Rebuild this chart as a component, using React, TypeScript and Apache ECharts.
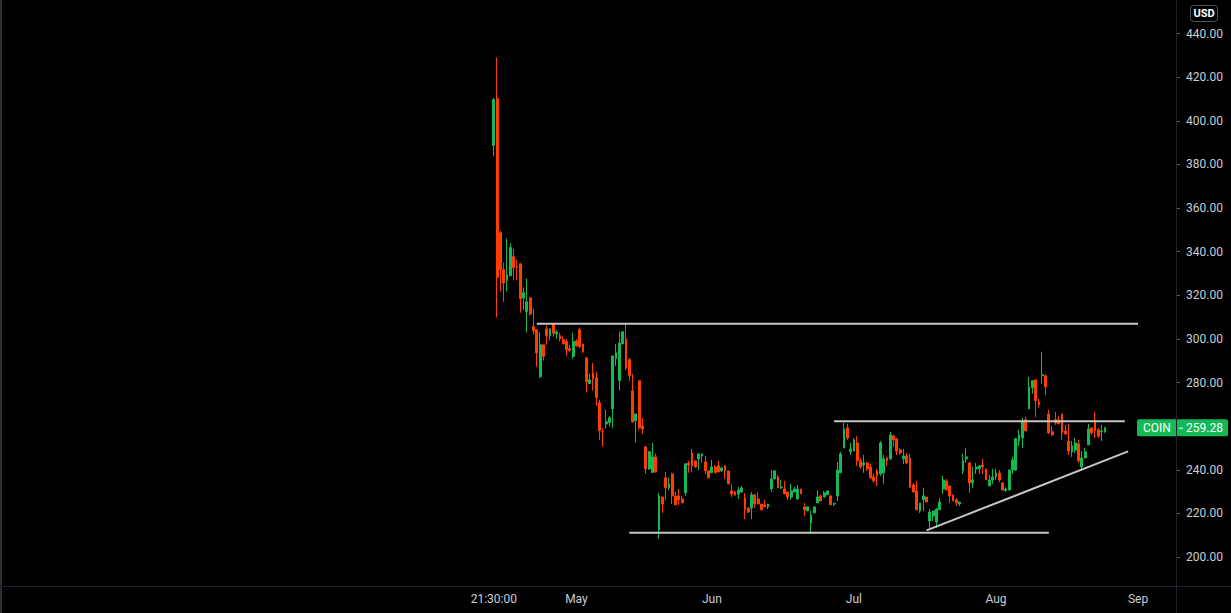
import React, { useEffect, useRef } from "react";
import * as echarts from "echarts";

// ---- Data (4h bars) ----
const barOpen = [
  388.7, 410.2, 348.7, 331.7, 326.8, 328.9, 337.7, 333.0, 334.4, 318.7,
  312.6, 318.8, 305.6, 304.2, 282.7, 297.3, 304.6, 301.4, 306.9, 302.3,
  301.5, 299.6, 298.8, 295.5, 292.0, 299.1, 304.2, 297.7, 291.3, 279.5,
  284.4, 282.1, 270.7, 257.6, 261.0, 261.6, 267.9, 291.0, 280.8, 297.7,
  300.0, 290.4, 276.2, 262.5, 280.8, 260.1, 250.5, 240.4, 238.7, 245.9,
  212.4, 227.5, 236.3, 231.7, 238.1, 228.0, 228.0, 226.6, 229.4, 243.1,
  247.7, 244.1, 245.0, 246.3, 243.6, 239.5, 238.6, 241.3, 241.8, 239.5,
  241.8, 239.5, 230.3, 229.8, 228.9, 229.8, 227.1, 222.5, 222.5, 228.5,
  226.6, 224.3, 223.9, 223.0, 231.2, 235.8, 236.7, 231.7, 231.2, 229.8,
  227.5, 229.8, 226.6, 231.2, 222.9, 221.1, 215.6, 220.2, 224.8, 228.0,
  227.5, 228.5, 228.0, 224.2, 228.0, 238.6, 250.0, 259.2, 248.2, 248.6,
  252.3, 244.1, 242.2, 243.1, 241.3, 236.7, 239.5, 238.1, 238.6, 245.4,
  245.0, 255.5, 254.2, 249.1, 245.0, 246.3, 245.4, 233.0, 230.3, 221.1,
  226.2, 227.5, 216.5, 218.8, 216.1, 221.6, 231.2, 234.9, 232.6, 228.5,
  226.2, 224.3, 239.5, 245.0, 243.1, 234.0, 240.4, 240.4, 242.2, 240.4,
  232.6, 235.3, 236.7, 238.5, 234.0, 230.6, 230.7, 239.9, 239.9, 253.2,
  254.6, 262.9, 267.9, 277.6, 281.2, 271.1, 283.1, 283.1, 265.6, 257.4,
  262.9, 262.9, 265.6, 257.8, 253.2, 248.2, 249.1, 251.9, 241.3, 245.4,
  251.4, 259.2, 262.9, 258.3, 257.4, 257.4,
];
const barClose = [
  409.7, 328.2, 331.7, 325.6, 329.4, 341.8, 332.7, 332.8, 318.4, 321.1,
  317.0, 311.4, 303.7, 293.5, 297.3, 292.0, 301.4, 304.6, 302.6, 303.2,
  299.9, 297.7, 295.0, 294.7, 298.8, 296.8, 296.5, 294.2, 280.5, 281.2,
  281.7, 273.1, 258.0, 257.4, 262.0, 263.8, 292.2, 293.6, 298.1, 303.3,
  286.6, 283.1, 262.0, 265.6, 259.2, 258.7, 240.4, 248.2, 245.9, 239.0,
  228.0, 224.3, 231.7, 233.5, 228.0, 223.9, 226.2, 224.8, 242.7, 242.2,
  241.8, 241.3, 247.3, 247.3, 239.5, 236.3, 241.3, 238.6, 239.0, 240.8,
  239.5, 233.5, 228.9, 228.5, 230.7, 231.7, 221.6, 220.6, 228.5, 224.3,
  224.3, 221.6, 223.0, 224.3, 235.8, 239.5, 231.7, 232.1, 228.9, 227.5,
  230.3, 231.2, 231.2, 228.9, 221.6, 223.0, 219.3, 223.0, 227.5, 225.7,
  229.4, 230.3, 223.9, 224.6, 239.9, 247.3, 258.7, 254.6, 249.6, 253.7,
  244.1, 241.3, 243.1, 240.4, 236.3, 234.9, 237.2, 252.3, 245.0, 244.1,
  256.0, 253.7, 248.6, 247.7, 246.3, 243.1, 232.1, 229.8, 221.6, 224.8,
  228.0, 225.2, 220.6, 221.1, 222.0, 225.2, 235.3, 230.7, 228.0, 225.7,
  224.8, 225.2, 244.1, 245.9, 234.0, 235.3, 241.3, 241.8, 241.3, 235.3,
  235.3, 236.7, 238.5, 235.3, 230.7, 231.2, 239.9, 244.5, 254.2, 256.0,
  262.4, 257.8, 278.0, 280.8, 271.6, 269.8, 283.6, 278.0, 256.9, 256.0,
  261.5, 261.0, 256.9, 256.4, 248.6, 250.9, 252.3, 244.1, 245.4, 248.2,
  258.7, 256.9, 257.8, 255.5, 257.8, 259.28,
];
const barLow = [
  383.7, 309.8, 321.7, 317.0, 321.7, 328.9, 326.8, 327.1, 312.0, 313.3,
  302.9, 310.7, 301.9, 287.3, 282.0, 290.0, 297.3, 299.3, 301.0, 300.0,
  298.8, 297.7, 292.2, 293.8, 290.9, 296.4, 295.8, 293.5, 275.4, 279.5,
  276.3, 269.3, 253.7, 250.6, 258.9, 259.8, 259.2, 287.6, 276.3, 297.7,
  285.8, 280.8, 261.5, 252.3, 258.3, 256.4, 238.1, 240.0, 238.7, 238.7,
  208.3, 220.2, 226.2, 230.7, 224.3, 223.9, 223.9, 224.8, 228.0, 238.6,
  239.0, 240.9, 239.9, 243.1, 238.1, 236.3, 238.6, 238.6, 239.0, 239.0,
  235.8, 233.5, 227.5, 228.0, 226.6, 229.4, 217.4, 220.2, 217.4, 222.5,
  224.3, 221.6, 223.0, 222.0, 229.8, 235.8, 231.7, 231.2, 228.9, 226.2,
  226.2, 229.8, 226.2, 228.9, 218.8, 221.1, 210.6, 220.2, 224.8, 225.7,
  227.5, 228.5, 223.9, 223.4, 225.7, 238.6, 250.0, 253.7, 246.8, 248.6,
  241.8, 240.4, 238.6, 239.5, 235.8, 234.0, 232.6, 237.2, 233.5, 241.8,
  244.5, 250.5, 246.8, 246.8, 242.7, 242.7, 231.6, 229.8, 221.6, 220.2,
  221.1, 225.2, 213.3, 216.5, 213.3, 221.6, 228.9, 230.7, 224.8, 225.7,
  223.4, 223.4, 238.1, 243.1, 229.4, 231.7, 238.1, 238.1, 238.1, 235.3,
  232.6, 233.5, 235.3, 234.4, 230.7, 229.8, 230.7, 238.1, 239.5, 250.9,
  250.0, 257.8, 267.9, 274.8, 264.2, 268.4, 279.4, 274.3, 256.5, 255.5,
  260.6, 261.0, 253.7, 256.4, 246.8, 245.9, 247.7, 243.1, 239.5, 245.4,
  251.4, 256.0, 254.6, 254.6, 253.2, 256.9,
];
const barHigh = [
  410.5, 429.0, 349.5, 335.0, 346.0, 343.8, 341.3, 336.2, 334.4, 323.6,
  327.6, 319.0, 313.8, 304.2, 303.1, 297.3, 306.0, 304.6, 307.0, 304.2,
  302.8, 301.1, 299.9, 297.3, 302.9, 299.9, 305.2, 297.7, 291.3, 284.0,
  289.0, 284.9, 272.1, 259.0, 267.5, 264.7, 292.2, 297.6, 303.3, 303.3,
  306.9, 291.3, 284.0, 265.6, 280.8, 263.8, 251.0, 248.6, 252.3, 247.3,
  229.4, 227.5, 239.0, 236.3, 238.6, 229.8, 231.2, 228.0, 243.1, 244.1,
  249.6, 244.1, 247.3, 247.3, 246.3, 239.5, 244.5, 242.2, 244.1, 241.3,
  241.8, 239.5, 233.5, 230.3, 232.1, 232.6, 229.4, 222.5, 229.8, 228.9,
  229.8, 224.3, 226.2, 224.3, 239.9, 239.5, 237.6, 235.3, 234.9, 229.8,
  233.5, 232.1, 233.0, 231.2, 224.8, 223.0, 221.1, 223.0, 230.7, 228.5,
  230.3, 230.3, 228.5, 224.8, 243.6, 248.2, 261.5, 261.0, 252.3, 254.6,
  255.5, 245.4, 246.8, 243.6, 242.7, 238.1, 240.4, 253.2, 246.8, 245.9,
  257.4, 256.0, 254.2, 250.0, 249.6, 247.7, 247.3, 233.9, 234.9, 224.8,
  231.7, 227.5, 222.0, 221.1, 222.5, 227.0, 237.2, 235.8, 232.6, 228.5,
  227.0, 225.2, 247.3, 250.0, 243.6, 241.3, 243.1, 242.2, 245.0, 240.4,
  237.6, 240.4, 240.4, 239.9, 234.0, 232.0, 239.9, 245.9, 254.6, 258.3,
  263.8, 264.2, 282.6, 280.8, 281.2, 272.5, 294.1, 283.6, 267.5, 260.1,
  266.5, 264.7, 265.6, 260.6, 261.0, 253.2, 254.6, 253.7, 248.6, 250.0,
  261.0, 259.2, 266.5, 259.2, 260.6, 259.7,
];

// Time-axis tick labels: [bar index, label]
const xTickLabels: [number, string][] = [
  [0, "21:30:00"],
  [25, "May"],
  [66, "Jun"],
  [109, "Jul"],
  [152, "Aug"],
  [195, "Sep"],
];

// Price axis
const priceMin = 200;
const priceMax = 440;
const priceStep = 20;

// Drawn levels / trend line: [bar index, price]
const drawnLines: { from: [number, number]; to: [number, number] }[] = [
  { from: [13, 306.9], to: [195, 306.9] },
  { from: [41, 211.1], to: [168, 211.1] },
  { from: [103, 262.2], to: [191, 262.2] },
  { from: [131, 212.2], to: [192, 248.4] },
];

const symbolName = "COIN";
const currency = "USD";

const LEFT_PAD = 149; // empty slots left of the first bar
const TOTAL_SLOTS = 356;

const UP = "#12b955";
const DOWN = "#ff3d00";
const TEXT = "#c9ccd4";

export default function App() {
  const ref = useRef<HTMLDivElement>(null);

  useEffect(() => {
    document.body.style.margin = "0";
    const el = ref.current!;
    const chart = echarts.init(el, null, { renderer: "svg" });

    const cats = Array.from({ length: TOTAL_SLOTS }, (_, i) => String(i - LEFT_PAD));
    const labelMap = new Map<number, string>(xTickLabels);

    const candleData = barOpen.map((o, i) => [
      i + LEFT_PAD,
      o,
      barClose[i],
      barLow[i],
      barHigh[i],
    ]);

    const lineSeries = drawnLines.map((l) => ({
      type: "line" as const,
      data: [
        [l.from[0] + LEFT_PAD, l.from[1]],
        [l.to[0] + LEFT_PAD, l.to[1]],
      ],
      showSymbol: false,
      symbol: "none",
      lineStyle: { color: "#c6c6c6", width: 2 },
      silent: true,
      z: 5,
    }));

    chart.setOption({
      animation: false,
      backgroundColor: "#000000",
      grid: { left: 0, right: 55, top: 33.5, bottom: 56 },
      xAxis: {
        type: "category",
        data: cats,
        boundaryGap: true,
        axisLine: { show: false },
        axisTick: { show: false },
        splitLine: { show: false },
        axisLabel: {
          color: TEXT,
          fontFamily: "Roboto",
          fontSize: 12,
          margin: 36,
          hideOverlap: false,
          interval: (index: number) => labelMap.has(index - LEFT_PAD),
          formatter: (_v: string, index: number) => labelMap.get(index - LEFT_PAD) ?? "",
        },
      },
      yAxis: {
        type: "value",
        position: "right",
        min: priceMin,
        max: priceMax,
        interval: priceStep,
        splitLine: { show: false },
        axisLine: { show: false },
        axisTick: { show: true, length: 4, lineStyle: { color: "#5d606b" } },
        axisLabel: {
          color: TEXT,
          fontFamily: "Roboto",
          fontSize: 12,
          margin: 10,
          formatter: (v: number) => v.toFixed(2),
        },
      },
      series: [
        {
          type: "candlestick",
          data: candleData,
          encode: { x: 0, y: [1, 2, 3, 4] },
          barWidth: 2.3,
          itemStyle: {
            color: UP,
            color0: DOWN,
            borderColor: UP,
            borderColor0: DOWN,
            borderColorDoji: DOWN,
            borderWidth: 1,
          },
          z: 2,
        },
        ...lineSeries,
      ],
    });

    const lastClose = barClose[barClose.length - 1];
    const py = chart.convertToPixel({ yAxisIndex: 0 }, lastClose) as number;

    chart.setOption({
      graphic: [
        { type: "rect", shape: { x: 0, y: 0, width: 2, height: 613 }, style: { fill: "#2a2e39" }, z: 50 },
        { type: "line", shape: { x1: 0, y1: 586.5, x2: 1231, y2: 586.5 }, style: { stroke: "#1e222d", lineWidth: 1 }, z: 50 },
        {
          type: "rect",
          shape: { x: 1137, y: py - 8.5, width: 91, height: 17, r: 2 },
          style: { fill: UP },
          z: 60,
        },
        {
          type: "text",
          x: 1143,
          y: py,
          style: { text: symbolName, fill: "#ffffff", font: "12px Roboto", verticalAlign: "middle", align: "left" },
          z: 61,
        },
        {
          type: "line",
          shape: { x1: 1179, y1: py + 0.5, x2: 1183, y2: py + 0.5 },
          style: { stroke: "#ffffff", lineWidth: 1 },
          z: 61,
        },
        {
          type: "text",
          x: 1186,
          y: py,
          style: { text: lastClose.toFixed(2), fill: "#ffffff", font: "12px Roboto", verticalAlign: "middle", align: "left" },
          z: 61,
        },
        { type: "line", shape: { x1: 1176.5, y1: 0, x2: 1176.5, y2: 613 }, style: { stroke: "#1e222d", lineWidth: 1 }, z: 62 },
        {
          type: "rect",
          shape: { x: 1190.5, y: 5.5, width: 27, height: 16, r: 3 },
          style: { fill: "#000000", stroke: "#50535e", lineWidth: 1 },
          z: 60,
        },
        {
          type: "text",
          x: 1204,
          y: 13.5,
          style: { text: currency, fill: "#ffffff", font: "bold 11px Roboto", align: "center", verticalAlign: "middle" },
          z: 61,
        },
      ],
    });

    return () => chart.dispose();
  }, []);

  return (
    <div
      ref={ref}
      style={{ position: "fixed", left: 0, top: 0, width: 1231, height: 613 }}
    />
  );
}
